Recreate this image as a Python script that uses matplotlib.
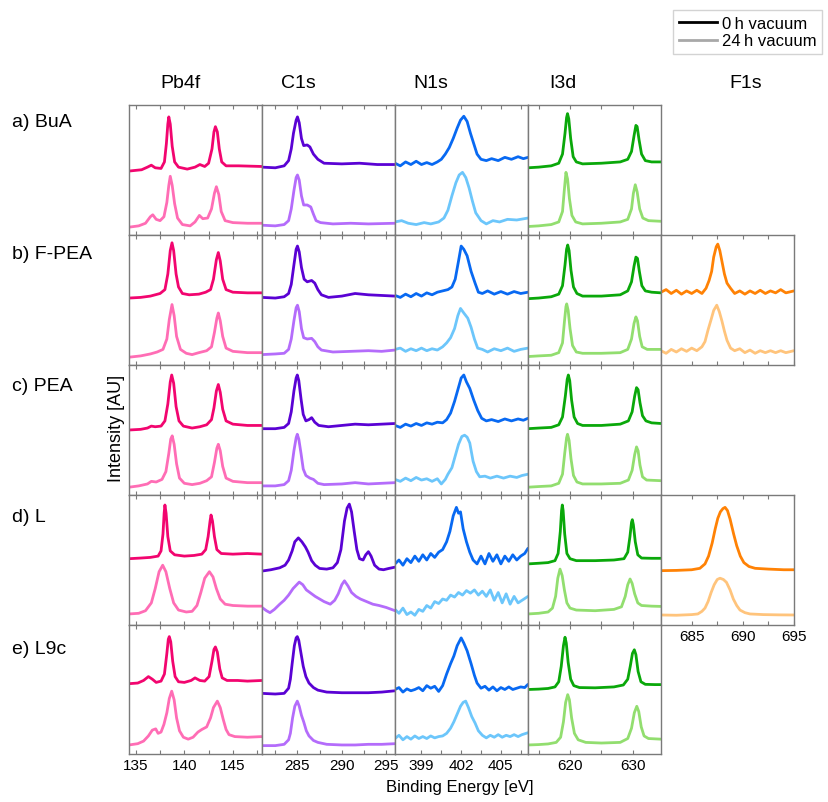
import matplotlib
matplotlib.use("Agg")
import matplotlib.pyplot as plt
from matplotlib.lines import Line2D
from matplotlib.ticker import FixedLocator, NullFormatter

plt.rcParams['font.family'] = ['Liberation Sans', 'DejaVu Sans']

# ---------------- categories / labels ----------------
SAMPLES = ['a) BuA', 'b) F-PEA', 'c) PEA', 'd) L', 'e) L9c']
CORE_LEVELS = ['Pb4f', 'C1s', 'N1s', 'I3d', 'F1s']
LEGEND_LABELS = ['0\u2009h vacuum', '24\u2009h vacuum']
X_LABEL = 'Binding Energy [eV]'
Y_LABEL = 'Intensity [AU]'

# energy ranges and ticks per core level
XLIM = {'Pb4f': (134.3, 148.0), 'C1s': (281.0, 296.0), 'N1s': (397.0, 407.05),
        'I3d': (613.3, 634.5), 'F1s': (682.0, 695.0)}
MAJOR_TICKS = {'Pb4f': [135, 140, 145], 'C1s': [285, 290, 295], 'N1s': [399, 402, 405],
               'I3d': [620, 630], 'F1s': [685, 690, 695]}
MINOR_TICKS = {'Pb4f': [137.5, 142.5, 147.5], 'C1s': [282.5, 287.5, 292.5],
               'N1s': [400.5, 403.5, 406.5], 'I3d': [615, 625], 'F1s': [687.5, 692.5]}

# ---------------- spectra (binding energy eV, intensity in % of panel) ----------------
# Row a) BuA
PB4F_A_0H = [(134.3,49),(135.6,50),(136.2,52),(136.6,53.5),(137.0,51.5),(137.6,51),(137.95,56),(138.15,70),(138.3,85),(138.4,90.5),(138.55,85),(138.75,68),(139.0,56),(139.4,52),(140.3,50.5),(141.1,52),(141.6,54),(142.1,52.5),(142.5,55),(142.85,66),(143.05,79),(143.2,83),(143.4,79),(143.6,66),(143.85,56),(144.3,53),(145.6,53),(148,52.5)]
PB4F_A_24H = [(134.3,6),(135.3,7),(136.0,9),(136.5,14),(136.75,15.5),(137.1,12),(137.5,11),(137.9,14),(138.2,25),(138.4,38),(138.55,45),(138.75,38),(139.0,24),(139.3,13),(139.8,8),(140.6,7),(141.1,10),(141.55,15),(141.9,12.5),(142.4,13),(142.8,20),(143.1,32),(143.3,37),(143.55,31),(143.8,18),(144.2,11),(145,9.5),(146.5,9),(148,9)]
C1S_A_0H = [(281,52),(282.5,51.5),(283.5,53),(284.0,57),(284.3,66),(284.55,78),(284.85,88),(285.0,90.5),(285.2,86),(285.45,74),(285.7,68.5),(286.1,69),(286.4,67.5),(286.8,62),(287.3,58),(288,55),(290,54.5),(292,55),(294,54),(296,54)]
C1S_A_24H = [(281,7.5),(282.5,7),(283.5,8),(284.0,11),(284.3,20),(284.6,34),(284.85,44),(285.0,46),(285.2,42),(285.45,30),(285.7,23),(286.1,23),(286.5,21.5),(286.8,16),(287.1,11),(287.6,9.5),(289,8.5),(291,9),(293,8.5),(296,9)]
N1S_A_0H = [(397,55),(397.4,53),(397.8,56),(398.2,54),(398.6,56.5),(399,54),(399.4,55.5),(399.8,54),(400.2,56),(400.5,58),(400.8,62),(401.1,67),(401.4,74),(401.7,82),(401.95,88),(402.2,91),(402.45,87),(402.7,78),(402.95,70),(403.2,62),(403.5,58),(403.9,57),(404.3,58.5),(404.8,57),(405.3,59.5),(405.8,58),(406.3,60),(406.7,58.5),(407.05,59.5)]
N1S_A_24H = [(397,10),(397.5,11),(398,9),(398.6,8),(399.2,9.5),(399.7,8.5),(400.3,10),(400.7,13),(401.0,19),(401.3,30),(401.6,40),(401.85,46),(402.1,48),(402.35,44),(402.6,36),(402.85,26),(403.1,17),(403.5,11),(403.9,8.5),(404.4,11),(404.9,10),(405.5,12),(406.2,11.5),(407.05,13)]
I3D_A_0H = [(613.3,51.5),(615,52),(617,53),(618.2,55),(618.8,62),(619.2,78),(619.45,90),(619.6,93),(619.8,89),(620.1,74),(620.5,60),(621,56),(622,54.5),(625,55),(628,56),(629.2,58),(629.8,64),(630.2,76),(630.5,84),(630.7,83),(631,73),(631.4,62),(632,57),(633,56),(634.5,56)]
I3D_A_24H = [(613.3,6.5),(615,7),(617,8),(618.2,10),(618.8,18),(619.1,35),(619.35,48),(619.6,43),(619.9,28),(620.3,15),(620.9,10),(622,8.5),(625,9),(628,10),(629.2,12),(629.8,20),(630.1,32),(630.4,38.5),(630.7,33),(631.1,20),(631.6,13),(632.5,11),(634.5,10.5)]

# Row b) F-PEA
PB4F_B_0H = [(134.3,51.5),(135.5,52),(136.5,53),(137.0,54),(137.5,55),(138.0,58),(138.3,70),(138.55,88),(138.73,94),(138.9,88),(139.15,70),(139.4,60),(139.8,55),(140.5,54),(141.5,54.5),(142.2,56),(142.7,58),(143.0,66),(143.3,81),(143.5,86.5),(143.7,80),(143.95,66),(144.3,58),(145,56),(146.5,55.5),(148,55.5)]
PB4F_B_24H = [(134.3,6),(135.5,7),(136.5,8.5),(137.2,10),(137.8,12),(138.2,20),(138.45,35),(138.73,46.5),(138.95,38),(139.2,22),(139.6,12),(140.2,9),(140.8,8),(141.5,9.5),(142.3,11),(142.8,14),(143.1,25),(143.35,36),(143.5,40),(143.7,34),(143.95,22),(144.3,13),(145,10.5),(146.5,9.5),(148,9.5)]
C1S_B_0H = [(281,52),(282.5,51.5),(283.5,52.5),(284.0,55),(284.3,62),(284.6,77),(284.85,89),(285.0,91.5),(285.2,87),(285.45,75),(285.75,66),(286.1,64),(286.6,65),(286.95,63),(287.3,58),(287.7,54),(288.5,52),(290,53),(291.5,55),(293,54),(294.5,53.5),(296,53)]
C1S_B_24H = [(281,8),(282.5,8.5),(283.5,9),(284.0,12),(284.3,20),(284.6,34),(284.85,44),(285.0,46),(285.2,41),(285.45,28),(285.7,21),(286.1,20),(286.6,20.5),(286.95,18),(287.3,14),(287.7,11.5),(289,10),(291,10.5),(293,11),(294.5,10.5),(296,11.5)]
N1S_B_0H = [(397,53.5),(397.4,52),(397.8,54.5),(398.2,52.5),(398.6,55),(399,53),(399.4,55.5),(399.8,54),(400.2,56),(400.6,57),(401.0,58),(401.3,60),(401.55,66),(401.8,80),(402.0,91.5),(402.2,89),(402.45,84),(402.75,72),(403.05,63),(403.3,56),(403.6,55),(404,57),(404.5,54.5),(405,56.5),(405.5,54.5),(406,56.5),(406.5,55),(407.05,56)]
N1S_B_24H = [(397,12),(397.4,13),(397.8,10.5),(398.2,12.5),(398.6,11),(399,13),(399.4,11),(399.8,12.5),(400.2,11.5),(400.6,14),(400.9,17),(401.2,21),(401.5,28),(401.75,38),(401.95,43.5),(402.2,40),(402.5,36),(402.75,29),(403.0,20),(403.25,13),(403.6,12),(404,10),(404.5,12.5),(405,11),(405.5,13),(406,10.5),(406.5,12),(407.05,13)]
I3D_B_0H = [(613.3,51),(615,51.5),(617,52.5),(618.2,54.5),(618.8,61),(619.2,77),(619.45,89),(619.63,92.3),(619.85,88),(620.15,73),(620.55,60),(621.1,55),(622,53),(625,53),(628,54),(629.2,57),(629.8,64),(630.2,76),(630.5,83),(630.75,82),(631.05,72),(631.45,61),(632,57),(633,56),(634.5,55.5)]
I3D_B_24H = [(613.3,6.5),(615,7),(617,7.5),(618.2,9.5),(618.8,17),(619.1,33),(619.35,45),(619.47,47),(619.7,42),(620,28),(620.4,15),(621,10),(622,9),(625,9),(628,9.5),(629.2,12),(629.8,20),(630.2,32),(630.5,37),(630.75,34),(631.1,22),(631.5,14),(632.3,12),(634.5,12)]
F1S_B_0H = [(682,56),(682.5,58),(683,55),(683.5,57.5),(684,54.5),(684.5,57),(685,55),(685.5,57.5),(686,55),(686.4,59),(686.7,65),(686.95,72),(687.15,83),(687.4,91),(687.55,93),(687.75,88),(687.95,80),(688.2,70),(688.45,63),(688.8,59),(689.2,55),(689.7,57),(690.2,54.5),(690.7,57),(691.2,55),(691.7,57.5),(692.2,55),(692.7,57),(693.2,55.5),(693.7,58),(694.2,55.5),(695,57)]
F1S_B_24H = [(682,11),(682.5,9),(683,12),(683.5,10),(684,12.5),(684.5,10.5),(685,13),(685.5,11),(686,14),(686.3,18),(686.6,27),(686.9,35),(687.15,42),(687.45,46),(687.7,41),(687.95,34),(688.2,26),(688.45,19),(688.8,13),(689.2,11),(689.7,12.5),(690.2,9.5),(690.7,11.5),(691.2,9),(691.7,11),(692.2,9.5),(692.7,11),(693.2,9.5),(693.7,11),(694.2,9.5),(695,11)]

# Row c) PEA
PB4F_C_0H = [(134.3,50),(135.5,50.5),(136.2,51.5),(136.6,53),(137.0,52.5),(137.6,53),(138.0,57),(138.3,70),(138.55,87),(138.7,92.3),(138.9,86),(139.15,68),(139.45,57),(139.9,53),(140.8,51.5),(141.6,52.5),(142.3,54),(142.8,58),(143.05,67),(143.3,80),(143.5,85),(143.7,79),(143.95,66),(144.3,57),(145,54.5),(146.5,53.5),(148,53.5)]
PB4F_C_24H = [(134.3,6),(135.3,7),(136.2,8.5),(136.6,10.5),(137.1,10),(137.7,12),(138.1,18),(138.4,32),(138.6,43),(138.75,45.5),(138.95,39),(139.2,24),(139.5,13),(140,9),(140.8,8),(141.6,9),(142.3,11),(142.8,14),(143.1,25),(143.35,36),(143.5,39),(143.7,34),(143.95,22),(144.3,13),(145,10.5),(146.5,9.5),(148,9.5)]
C1S_C_0H = [(281,51),(282.5,51),(283.5,52),(284.0,55),(284.3,64),(284.6,80),(284.85,90),(284.98,92.3),(285.15,88),(285.4,74),(285.65,62),(285.95,57),(286.3,58),(286.6,59.5),(286.95,56),(287.4,53.5),(288.5,52.5),(290,53.5),(291.5,54.5),(293,54),(294.5,54.5),(296,55)]
C1S_C_24H = [(281,7),(282.5,7),(283.5,8),(284.0,11),(284.3,19),(284.6,34),(284.85,44),(284.98,46.7),(285.15,43),(285.4,32),(285.65,20),(285.95,15),(286.4,13),(286.8,12),(287.3,9),(288,8),(290,8.5),(291.5,9.5),(293,8.5),(294.5,9),(296,9.5)]
N1S_C_0H = [(397,53.5),(397.4,52),(397.8,54.5),(398.2,53),(398.6,55),(399,53.5),(399.4,55.5),(399.8,54.5),(400.2,56),(400.6,55.5),(400.9,58),(401.2,63),(401.5,72),(401.75,81),(402.0,90),(402.2,92.3),(402.4,87),(402.65,82),(402.95,73),(403.25,65),(403.55,59),(403.9,57),(404.3,58),(404.8,56.5),(405.3,58.5),(405.8,57),(406.3,58.5),(406.7,57.5),(407.05,59)]
N1S_C_24H = [(397,12),(397.4,10.5),(397.8,13),(398.2,11),(398.6,13.5),(399,11.5),(399.4,12.5),(399.8,10.5),(400.2,12.5),(400.5,8.5),(400.8,12),(401.0,16),(401.3,21),(401.55,30),(401.8,39),(402.05,45),(402.26,46),(402.45,44.5),(402.65,40),(402.9,26),(403.15,18),(403.4,14),(403.8,14.5),(404.2,13),(404.7,14.5),(405.2,13),(405.7,14.5),(406.2,13.5),(406.6,15),(407.05,16)]
I3D_C_0H = [(613.3,51),(615,51.5),(617,52),(618.2,54),(618.8,60),(619.25,76),(619.55,89),(619.73,92.3),(619.95,88),(620.25,73),(620.65,60),(621.2,55),(622,53.5),(625,53.5),(628,54.5),(629.3,57),(629.9,64),(630.3,76),(630.6,82.6),(630.85,81),(631.15,71),(631.55,61),(632.1,57),(633,55.5),(634.5,55)]
I3D_C_24H = [(613.3,6),(615,6.5),(617,7),(618.2,9),(618.8,16),(619.15,32),(619.45,44),(619.6,46.7),(619.85,42),(620.15,28),(620.55,15),(621.1,10),(622,8.5),(625,8.5),(628,9),(629.3,11.5),(629.9,19),(630.3,31),(630.6,37),(630.85,34),(631.15,23),(631.55,14),(632.2,11.5),(634.5,11)]

# Row d) L
PB4F_D_0H = [(134.3,51),(135.5,51.5),(136.5,52),(137.3,53),(137.6,57),(137.8,70),(137.92,86),(138.0,92.3),(138.12,86),(138.3,68),(138.55,57),(139,54),(140,53),(141,53.5),(141.8,54.5),(142.2,58),(142.45,68),(142.65,80),(142.75,84.6),(142.9,80),(143.1,68),(143.35,58),(143.8,55),(145,54.5),(146.5,55),(148,54.5)]
PB4F_D_24H = [(134.3,8.5),(135.3,9),(136.0,11),(136.6,17),(137.0,28),(137.4,41),(137.77,46),(138.1,41),(138.5,28),(138.9,17),(139.4,11.5),(140.2,10),(140.8,10.5),(141.3,15),(141.7,25),(142.1,36),(142.58,41),(142.95,37),(143.3,28),(143.7,20),(144.2,16),(145,15),(146.5,14.5),(148,14.5)]
C1S_D_0H = [(281,41.5),(282,42.5),(283,44),(283.6,46),(284.0,50),(284.4,57),(284.7,64),(285.1,67),(285.5,64),(285.9,60),(286.2,56),(286.6,49.5),(287.0,46),(287.5,43.5),(288.3,43),(289.0,44),(289.5,48),(289.9,58),(290.3,80),(290.6,90),(290.85,93),(291.1,87),(291.4,72),(291.7,58),(292.0,51),(292.4,50),(292.7,54),(293.0,56.4),(293.3,53),(293.7,46),(294.2,43),(294.7,42.5),(295.3,43.5),(296,44.5)]
C1S_D_24H = [(281,13.5),(281.5,11),(281.9,9.5),(282.4,12),(283.0,16),(283.5,19),(284.0,23),(284.5,28),(285.2,33),(285.6,31),(286.0,27),(286.4,25),(287.0,22),(287.5,20),(288.0,18),(288.7,16),(289.2,19),(289.6,24),(290.0,31),(290.3,34),(290.7,30),(291.1,25),(291.6,22),(292.1,20),(292.8,18),(293.5,16),(294.2,15),(295.0,13.5),(296,11)]
N1S_D_0H = [(397,47),(397.3,50),(397.6,46),(397.9,51),(398.2,48),(398.5,53),(398.8,49),(399.1,54),(399.4,50),(399.7,55),(400.0,52),(400.3,56),(400.6,58),(400.9,64),(401.15,72),(401.4,84),(401.64,90.5),(401.8,86),(401.95,87),(402.15,74),(402.4,64),(402.65,56),(402.9,50),(403.2,47),(403.5,53),(403.8,47),(404.1,55),(404.4,49),(404.7,54),(405.0,47),(405.3,53),(405.6,49),(405.9,54),(406.2,50),(406.5,53),(406.8,55),(407.05,59)]
N1S_D_24H = [(397,12),(397.3,9),(397.6,13),(397.9,8),(398.2,10),(398.5,7.5),(398.8,12),(399.1,10.5),(399.4,15),(399.7,13),(400.0,18),(400.3,16.5),(400.6,20),(400.9,19),(401.2,23),(401.5,21.5),(401.8,25),(402.1,23),(402.4,26.5),(402.7,24.5),(403.0,27),(403.3,23),(403.6,26),(403.9,22),(404.2,27),(404.5,19),(404.8,25),(405.1,17),(405.4,24),(405.7,16),(406.0,22),(406.3,17),(406.6,19),(407.05,22)]
I3D_D_0H = [(613.3,47),(615,47.5),(616.5,48),(617.6,49.5),(618.1,55),(618.45,72),(618.65,88),(618.77,92.3),(618.9,88),(619.15,70),(619.5,55),(620,51),(621,49.5),(624,49.5),(627,50),(628.6,51),(629.2,56),(629.55,68),(629.8,79),(629.93,81),(630.1,77),(630.4,64),(630.8,54),(631.4,51.5),(633,51.3),(634.5,51.3)]
I3D_D_24H = [(613.3,8.5),(615,9),(616.5,10),(617.2,13),(617.7,22),(618.05,36),(618.4,43),(618.75,38),(619.1,27),(619.5,17),(620,13),(621,11.5),(624,11),(627,12),(628.2,14),(628.8,22),(629.2,31),(629.57,35.4),(629.9,32),(630.3,24),(630.8,17),(631.4,15),(633,14.5),(634.5,14.3)]
F1S_D_0H = [(682,41.8),(683.5,42),(685,42.5),(685.8,43.6),(686.3,47),(686.65,53),(687.0,63),(687.3,74),(687.55,82),(687.8,87),(688.05,89.5),(688.26,90.5),(688.5,88),(688.75,81.5),(689.1,70),(689.4,61),(689.75,53),(690.1,48),(690.6,45),(691.2,43.6),(692.5,43),(694,42.5),(695,42.5)]
F1S_D_24H = [(682,7.7),(683.5,7.5),(685,8),(685.6,8.5),(686.0,10.5),(686.3,13),(686.6,18),(686.9,25),(687.2,31),(687.5,35),(687.77,36),(688.1,35),(688.4,32.8),(688.75,27),(689.07,20),(689.4,15),(689.72,11.5),(690.2,9.5),(690.7,8.5),(692,8),(693.5,7.8),(695,7.7)]

# Row e) L9c
PB4F_E_0H = [(134.3,54.5),(135.2,55),(135.8,57),(136.3,60),(136.7,58),(137.1,55.5),(137.6,56.5),(137.95,62),(138.2,78),(138.35,89),(138.45,91),(138.6,87),(138.8,72),(139.05,60),(139.4,56),(140.0,55.5),(140.7,57),(141.1,59),(141.6,57),(142.1,56.5),(142.55,60),(142.85,72),(143.05,81),(143.2,83),(143.4,79),(143.65,66),(143.9,59),(144.4,57),(145.5,57),(146.5,56.5),(148,57)]
PB4F_E_24H = [(134.3,7),(135.2,8),(135.8,10),(136.3,14),(136.7,18.5),(137.05,19.5),(137.3,16),(137.6,17),(137.9,23),(138.2,32),(138.45,43),(138.7,48.7),(138.95,42),(139.2,28),(139.5,18),(139.9,13),(140.4,11.5),(140.9,13),(141.4,17),(141.8,19),(142.3,21),(142.7,28),(143.0,36),(143.4,41),(143.7,36),(144.0,27),(144.3,19),(144.6,15),(145.2,13.5),(146.5,13),(148,13.5)]
C1S_E_0H = [(281,47),(282.5,46.5),(283.5,47),(284.0,51),(284.2,58),(284.4,70),(284.65,84),(284.85,90),(284.98,91),(285.15,88),(285.4,78),(285.65,68),(285.95,60),(286.3,55),(286.8,51.5),(287.3,49.5),(288.3,48),(290,47.5),(291.5,47.5),(293,47.5),(294.5,48),(296,49)]
C1S_E_24H = [(281,6.5),(282.5,6.5),(283.5,7.5),(284.0,11),(284.2,16),(284.45,28),(284.7,37),(284.98,41),(285.2,37),(285.45,30),(285.7,25),(286.0,18),(286.3,14),(286.8,10.5),(287.3,9),(288.3,7.5),(290,7),(291.5,7),(293,7.5),(294.5,7.5),(296,8)]
N1S_E_0H = [(397,50),(397.3,51.5),(397.6,48),(397.9,50.5),(398.2,49),(398.5,50),(398.8,51.5),(399.1,49),(399.4,53),(399.7,51),(400.0,52.5),(400.3,48.5),(400.6,53),(400.9,62),(401.2,70),(401.45,76),(401.7,84),(402.0,90),(402.2,86),(402.45,80),(402.75,70),(403.0,61),(403.2,55),(403.5,51),(403.8,52.5),(404.1,49.5),(404.4,52),(404.7,49),(405.0,51.5),(405.3,50),(405.6,52),(405.9,50),(406.2,51),(406.5,52),(406.8,51.5),(407.05,54)]
N1S_E_24H = [(397,12),(397.3,14.5),(397.6,11),(397.9,13.5),(398.2,11.5),(398.5,14),(398.8,12),(399.1,13.5),(399.4,12),(399.7,14),(400.0,12.5),(400.3,13.5),(400.6,14),(400.9,16),(401.2,20),(401.45,25),(401.7,31),(401.95,37),(402.15,40),(402.34,41),(402.55,36),(402.8,29),(403.05,24),(403.3,18),(403.6,14.5),(403.9,12.5),(404.2,14.5),(404.5,13),(404.8,15),(405.1,13),(405.4,14.5),(405.7,13.5),(406.0,15),(406.3,13.5),(406.6,15),(407.05,16.5)]
I3D_E_0H = [(613.3,50),(615,50.3),(616.5,50.8),(617.6,52),(618.2,56),(618.6,68),(618.95,84),(619.2,90.5),(619.4,86),(619.7,71),(620.1,58),(620.6,53),(621.5,51.5),(624,51.3),(627,52),(628.5,53.5),(629.2,58),(629.6,68),(629.95,78),(630.25,80.8),(630.5,77),(630.85,64),(631.3,56),(632,54),(633.5,53.8),(634.5,53.8)]
I3D_E_24H = [(613.3,7),(615,7.3),(616.5,7.8),(617.8,9),(618.5,13),(618.95,25),(619.3,40),(619.63,46),(619.9,42),(620.25,28),(620.7,16),(621.3,11),(622.5,9),(625,8.5),(628,9),(629.2,12),(629.8,20),(630.25,32),(630.64,37),(630.95,33),(631.35,21),(631.8,14),(632.5,12),(634.5,11.5)]

SPECTRA = {
    (0, 'Pb4f'): (PB4F_A_0H, PB4F_A_24H), (0, 'C1s'): (C1S_A_0H, C1S_A_24H),
    (0, 'N1s'): (N1S_A_0H, N1S_A_24H), (0, 'I3d'): (I3D_A_0H, I3D_A_24H),
    (1, 'Pb4f'): (PB4F_B_0H, PB4F_B_24H), (1, 'C1s'): (C1S_B_0H, C1S_B_24H),
    (1, 'N1s'): (N1S_B_0H, N1S_B_24H), (1, 'I3d'): (I3D_B_0H, I3D_B_24H),
    (1, 'F1s'): (F1S_B_0H, F1S_B_24H),
    (2, 'Pb4f'): (PB4F_C_0H, PB4F_C_24H), (2, 'C1s'): (C1S_C_0H, C1S_C_24H),
    (2, 'N1s'): (N1S_C_0H, N1S_C_24H), (2, 'I3d'): (I3D_C_0H, I3D_C_24H),
    (3, 'Pb4f'): (PB4F_D_0H, PB4F_D_24H), (3, 'C1s'): (C1S_D_0H, C1S_D_24H),
    (3, 'N1s'): (N1S_D_0H, N1S_D_24H), (3, 'I3d'): (I3D_D_0H, I3D_D_24H),
    (3, 'F1s'): (F1S_D_0H, F1S_D_24H),
    (4, 'Pb4f'): (PB4F_E_0H, PB4F_E_24H), (4, 'C1s'): (C1S_E_0H, C1S_E_24H),
    (4, 'N1s'): (N1S_E_0H, N1S_E_24H), (4, 'I3d'): (I3D_E_0H, I3D_E_24H),
}

COLORS = {'Pb4f': ('#f2056f', '#ff6db5'), 'C1s': ('#5a02d4', '#b46cfb'),
          'N1s': ('#0869f2', '#6cc6fb'), 'I3d': ('#0aa80a', '#92de6f'),
          'F1s': ('#ff8205', '#ffc47c')}

# ---------------- layout ----------------
W, H = 829, 803
fig = plt.figure(figsize=(W / 100, H / 100), dpi=100)
COL_EDGES = [129, 262, 395, 528, 661, 794]
ROW_EDGES = [105.5, 236, 366, 496, 626, 755]
SPINE = '#7a7a7a'


def fx(x):
    return x / W


def fy(y):
    return 1 - y / H


for r in range(len(SAMPLES)):
    for c, lvl in enumerate(CORE_LEVELS):
        if (r, lvl) not in SPECTRA:
            continue
        x0, x1 = COL_EDGES[c], COL_EDGES[c + 1]
        y0, y1 = ROW_EDGES[r], ROW_EDGES[r + 1]
        ax = fig.add_axes([fx(x0), fy(y1), (x1 - x0) / W, (y1 - y0) / H])
        ax.set_facecolor('white')
        for curve, col in zip(SPECTRA[(r, lvl)], COLORS[lvl]):
            xs = [p[0] for p in curve]
            ys = [p[1] for p in curve]
            ax.plot(xs, ys, color=col, lw=2.0, solid_joinstyle='round',
                    solid_capstyle='round')
        ax.set_xlim(*XLIM[lvl])
        ax.set_ylim(0, 100)
        ax.set_yticks([])
        ax.xaxis.set_major_locator(FixedLocator(MAJOR_TICKS[lvl]))
        ax.xaxis.set_minor_locator(FixedLocator(MINOR_TICKS[lvl]))
        ax.xaxis.set_minor_formatter(NullFormatter())
        ax.tick_params(axis='x', which='both', direction='in', top=True, bottom=True,
                       length=3, width=0.8, color=SPINE, labelsize=11, pad=3)
        last_row = max(rr for (rr, l) in SPECTRA if l == lvl)
        if r != last_row:
            ax.tick_params(axis='x', labelbottom=False)
        for s in ax.spines.values():
            s.set_color(SPINE)
            s.set_linewidth(1.0)

# column titles
TITLE_X = [181, 298, 431, 563, 746]
for lvl, tx in zip(CORE_LEVELS, TITLE_X):
    fig.text(fx(tx), fy(84), lvl, ha='center', va='center', fontsize=14)

# row labels
ROW_LABEL_Y = [123, 255, 387, 518, 650]
for lab, ty in zip(SAMPLES, ROW_LABEL_Y):
    fig.text(fx(12), fy(ty), lab, ha='left', va='center', fontsize=14)

fig.text(fx(117), fy(428), Y_LABEL, rotation=90, ha='center', va='center', fontsize=13)
fig.text(fx(460), fy(788), X_LABEL, ha='center', va='center', fontsize=12)

handles = [Line2D([], [], color='black', lw=2.0), Line2D([], [], color='#a8a8a8', lw=2.0)]
leg = fig.legend(handles, LEGEND_LABELS, loc='upper right',
                 bbox_to_anchor=(fx(822), fy(11)), fontsize=12, frameon=True,
                 fancybox=False, handlelength=2.3, handletextpad=0.25,
                 borderpad=0.35, labelspacing=0.15, borderaxespad=0)
leg.get_frame().set_edgecolor('#c8c8c8')
leg.get_frame().set_linewidth(1.0)

fig.savefig('out.png', dpi=100, facecolor='white')
